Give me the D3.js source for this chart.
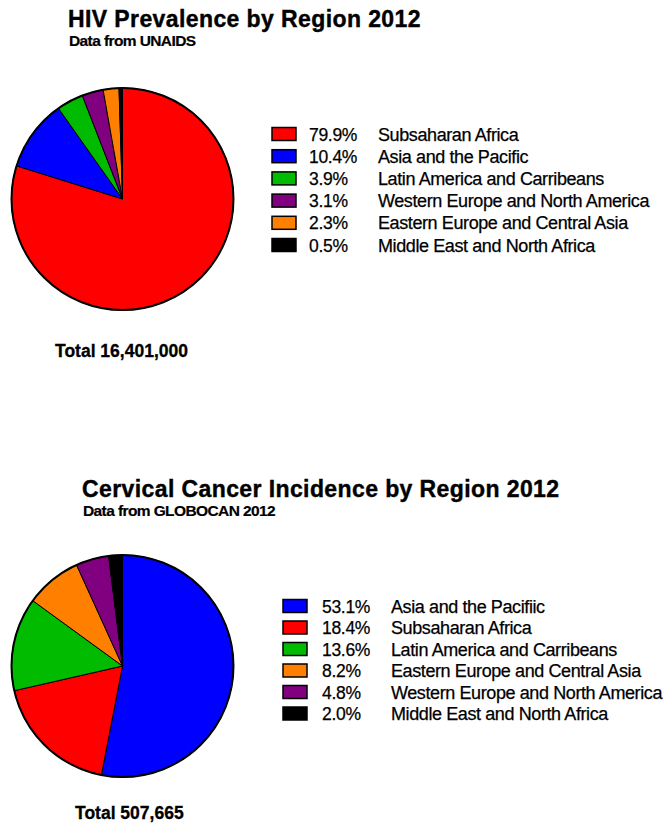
<!DOCTYPE html>
<html><head><meta charset="utf-8">
<script src="https://cdnjs.cloudflare.com/ajax/libs/d3/7.8.5/d3.min.js"></script>
<style>body{margin:0;background:#fff}svg{display:block}text{font-family:"Liberation Sans",Arial,sans-serif}</style>
</head><body><svg id="c" width="670" height="823"></svg>
<script>
// HIV prevalence
const hivRegions = ["Subsaharan Africa","Asia and the Pacific","Latin America and Carribeans","Western Europe and North America","Eastern Europe and Central Asia","Middle East and North Africa"];
const hivValues = [79.9,10.4,3.9,3.1,2.3,0.5];
const hivColors = ["#ff0000","#0000ff","#00bb00","#800080","#ff8000","#000000"];
// Cervical cancer
const ccRegions = ["Asia and the Pacifiic","Subsaharan Africa","Latin America and Carribeans","Eastern Europe and Central Asia","Western Europe and North America","Middle East and North Africa"];
const ccValues = [53.1,18.4,13.6,8.2,4.8,2.0];
const ccColors = ["#0000ff","#ff0000","#00bb00","#ff8000","#800080","#000000"];

const charts = [
  {title:"HIV Prevalence by Region 2012", sub:"Data from UNAIDS", total:"Total 16,401,000",
   regions:hivRegions, values:hivValues, colors:hivColors,
   tx:68, ty:27, sy:46, cx:122.5, cy:199, r:111, lx:272, ly:134, dy:22.2, px:309, nx:378, totx:55, toty:357},
  {title:"Cervical Cancer Incidence by Region 2012", sub:"Data from GLOBOCAN 2012", total:"Total 507,665",
   regions:ccRegions, values:ccValues, colors:ccColors,
   tx:82, ty:497, sy:516, cx:122.5, cy:666, r:111, lx:283, ly:606, dy:21.5, px:322, nx:391, totx:75, toty:819}
];
const svg = d3.select("#c");
charts.forEach(c=>{
  const g = svg.append("g");
  g.append("text").attr("x",c.tx).attr("y",c.ty).attr("font-size",23).attr("font-weight","bold")
    .attr("letter-spacing",0.4).attr("stroke","#000").attr("stroke-width",0.4).text(c.title);
  g.append("text").attr("x",c.tx+1).attr("y",c.sy).attr("font-size",15.5).attr("font-weight","bold")
    .attr("letter-spacing",-0.6).attr("stroke","#000").attr("stroke-width",0.2).text(c.sub);
  const data = c.values.map((v,i)=>({v,i}));
  const pie = d3.pie().value(d=>d.v).sort(null);
  const arc = d3.arc().innerRadius(0).outerRadius(c.r);
  const pg = g.append("g").attr("transform",`translate(${c.cx},${c.cy})`);
  pg.selectAll("path").data(pie(data)).join("path").attr("d",arc)
    .attr("fill",d=>c.colors[d.data.i]).attr("stroke","#000").attr("stroke-width",1);
  pg.append("circle").attr("r",c.r).attr("fill","none").attr("stroke","#000").attr("stroke-width",2);
  const lg = g.append("g");
  const y = d3.scaleLinear().domain([0,1]).range([c.ly,c.ly+c.dy]);
  c.regions.forEach((name,i)=>{
    lg.append("rect").attr("x",c.lx).attr("y",y(i)-6.5).attr("width",24).attr("height",13)
      .attr("fill",c.colors[i]).attr("stroke","#000").attr("stroke-width",1.5);
    lg.append("text").attr("x",c.px).attr("y",y(i)+6.5).attr("font-size",17.5).attr("letter-spacing",-0.3)
      .attr("stroke","#000").attr("stroke-width",0.25).text(c.values[i].toFixed(1)+"%");
    lg.append("text").attr("x",c.nx).attr("y",y(i)+6.5).attr("font-size",18).attr("letter-spacing",-0.4)
      .attr("stroke","#000").attr("stroke-width",0.25).text(name);
  });
  g.append("text").attr("x",c.totx).attr("y",c.toty).attr("font-size",17.5).attr("font-weight","bold")
    .attr("stroke","#000").attr("stroke-width",0.3).text(c.total);
});
</script></body></html>
